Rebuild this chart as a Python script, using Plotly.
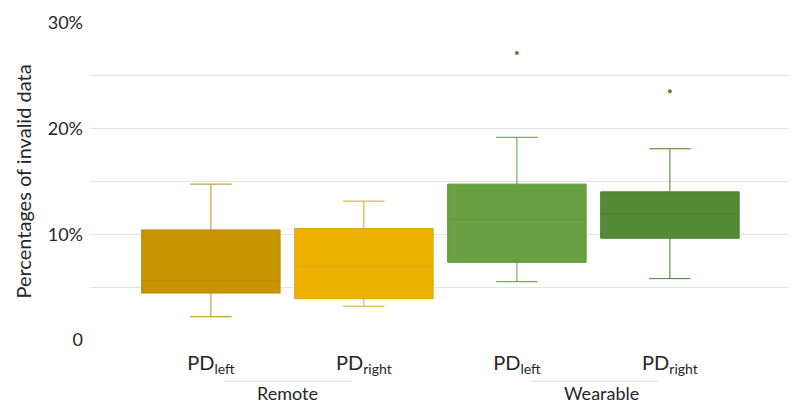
import plotly.graph_objects as go

# ---- data ----
group_labels = ["Remote", "Wearable"]
box_labels = ["PD<sub>left</sub>", "PD<sub>right</sub>", "PD<sub>left</sub>", "PD<sub>right</sub>"]
box_group = [0, 0, 1, 1]
q1 = [0.0444, 0.0391, 0.0735, 0.0963]
median = [0.0562, 0.0700, 0.1143, 0.1194]
q3 = [0.1042, 0.1055, 0.1475, 0.1402]
lowerfence = [0.0220, 0.0320, 0.0552, 0.0581]
upperfence = [0.1475, 0.1314, 0.1918, 0.1810]
outliers = [[], [], [0.2715], [0.2355]]
y_ticks = [0, 0.05, 0.10, 0.15, 0.20, 0.25, 0.30]
y_ticktext = ["0", "", "10%", "", "20%", "", "30%"]

fills = ["#C89500", "#EDB200", "#69A042", "#548A35"]
lines = ["#B98C10", "#D9A814", "#5E963A", "#4A7F2E"]

FONT = "Lato, 'Open Sans', sans-serif"

fig = go.Figure()
xs = list(range(len(q1)))
for i in xs:
    fig.add_trace(go.Box(
        x=[i], q1=[q1[i]], median=[median[i]], q3=[q3[i]],
        lowerfence=[lowerfence[i]], upperfence=[upperfence[i]],
        width=0.905, whiskerwidth=0.3,
        fillcolor=fills[i], line=dict(color=lines[i], width=1),
        boxpoints=False, showlegend=False, hoverinfo="skip",
    ))
    if outliers[i]:
        fig.add_trace(go.Scatter(
            x=[i] * len(outliers[i]), y=outliers[i], mode="markers",
            marker=dict(color="#4F8A33", size=4), showlegend=False,
        ))

# group labels and separator lines under the category labels
for g, name in enumerate(group_labels):
    members = [i for i in xs if box_group[i] == g]
    c = sum(members) / len(members)
    fig.add_shape(type="line", xref="x", yref="paper",
                  x0=c - 0.41, x1=c + 0.42, y0=-0.13, y1=-0.13,
                  line=dict(color="#D9D9D9", width=1))
    fig.add_annotation(x=c + (0.05 if g == 1 else 0.0), y=-0.126, xref="x", yref="paper",
                       text=name, showarrow=False, yanchor="top",
                       font=dict(family=FONT, size=18, color="#262626"))

fig.update_layout(
    width=788, height=396,
    margin=dict(l=82, r=0, t=15, b=64),
    plot_bgcolor="white", paper_bgcolor="white",
    font=dict(family=FONT, color="#262626"),
    xaxis=dict(range=[-0.79, 3.824], tickvals=xs, ticktext=box_labels,
               tickfont=dict(family=FONT, size=20, color="#262626"),
               showgrid=False, zeroline=False, showline=False, ticks="",
               ticklabelstandoff=9),
    yaxis=dict(range=[0, 0.30], tickvals=y_ticks, ticktext=y_ticktext,
               tickfont=dict(family=FONT, size=18, color="#262626"),
               showgrid=True, gridcolor="#E4E4E4", gridwidth=1,
               zeroline=False, showline=False, ticks="",
               ticklabelstandoff=6,
               title=dict(text="Percentages of invalid data",
                          font=dict(family=FONT, size=20, color="#262626"),
                          standoff=10)),
)

fig.write_html("out.html")
